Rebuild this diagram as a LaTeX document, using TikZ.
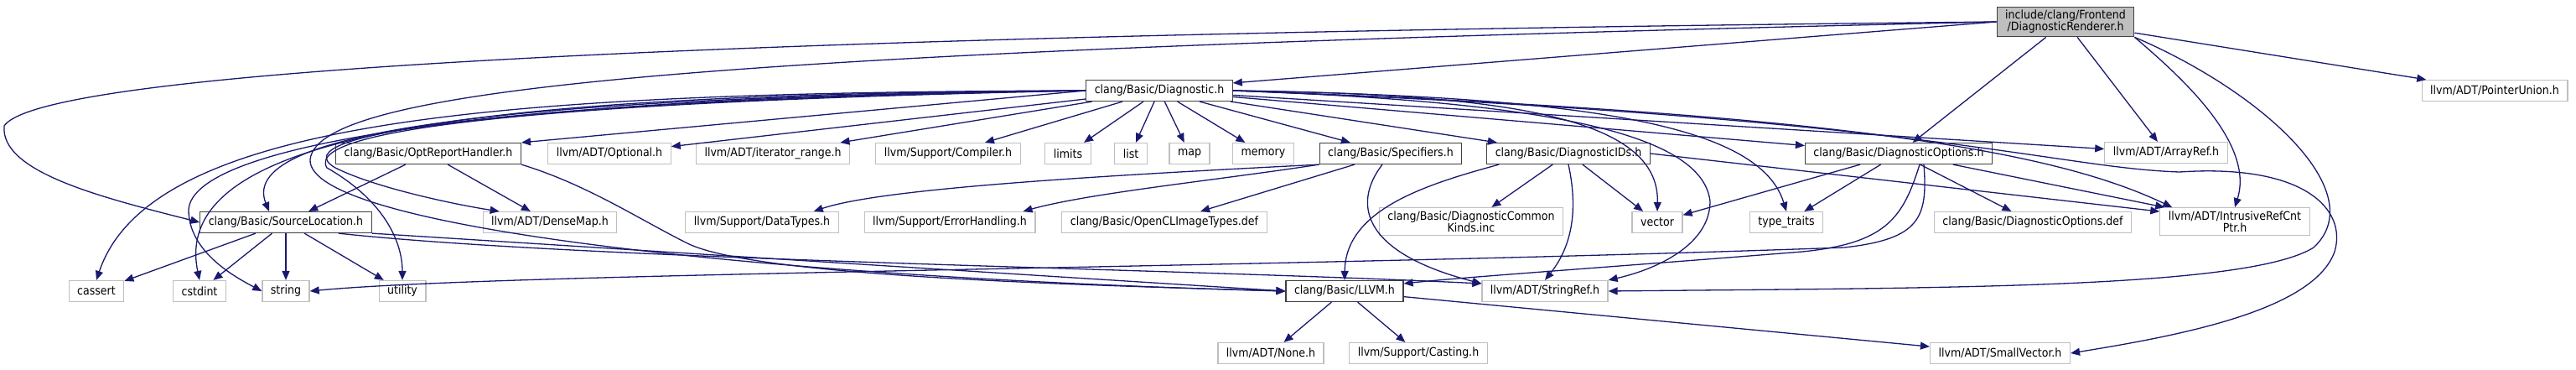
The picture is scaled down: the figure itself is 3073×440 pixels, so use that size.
\documentclass[tikz,border=0pt]{standalone}
\usepackage{fontspec}
\setmainfont{DejaVu Sans Condensed}
\usetikzlibrary{arrows.meta}
\definecolor{edgeblue}{RGB}{25,25,112}
\definecolor{boxgrey}{RGB}{191,191,191}

\begin{document}
\begin{tikzpicture}
\tikzstyle{file} = [draw=boxgrey, fill=white, line width=1.2pt, rectangle, minimum height=25pt, inner xsep=10pt, inner ysep=4pt, align=center, font=\fontsize{14}{14}\selectfont]
\tikzstyle{doc}  = [file, draw=black!75]
\tikzstyle{root} = [file, draw=black!75, fill=boxgrey]
\tikzstyle{dep}  = [draw=edgeblue, line width=1.3pt, -{Triangle[length=11pt,width=9pt]}]

\begin{scope}[x=1pt,y=-1pt]
\useasboundingbox (0,0) rectangle (3073,440);

\draw(2464,26)  node[root] (renderer)   {include/clang/Frontend\\/DiagnosticRenderer.h};
\draw(1383,108) node[doc]  (diag)       {clang/Basic/Diagnostic.h};
\draw(2976,108) node[file] (ptrunion)   {llvm/ADT/PointerUnion.h};

\draw(511,183)  node[doc]  (optrep)     {clang/Basic/OptReportHandler.h};
\draw(727,183)  node[file] (optional)   {llvm/ADT/Optional.h};
\draw(922,183)  node[file] (iterrange)  {llvm/ADT/iterator\_range.h};
\draw(1131,183) node[file] (compiler)   {llvm/Support/Compiler.h};
\draw(1274,183) node[file] (limits)     {limits};
\draw(1349,183) node[file] (list)       {list};
\draw(1419,183) node[file] (map)        {map};
\draw(1507,183) node[file] (memory)     {memory};
\draw(1659,183) node[doc]  (specifiers) {clang/Basic/Specifiers.h};
\draw(1871,183) node[doc]  (diagids)    {clang/Basic/DiagnosticIDs.h};
\draw(2265,183) node[doc]  (diagopts)   {clang/Basic/DiagnosticOptions.h};
\draw(2584,182) node[file] (arrayref)   {llvm/ADT/ArrayRef.h};

\draw(341,265)  node[doc]  (srcloc)     {clang/Basic/SourceLocation.h};
\draw(656,265)  node[file] (densemap)   {llvm/ADT/DenseMap.h};
\draw(909,265)  node[file] (datatypes)  {llvm/Support/DataTypes.h};
\draw(1133,265) node[file] (errhandle)  {llvm/Support/ErrorHandling.h};
\draw(1389,265) node[file] (opencl)     {clang/Basic/OpenCLImageTypes.def};
\draw(1755,264) node[file] (commonkind) {clang/Basic/DiagnosticCommon\\Kinds.inc};
\draw(1977,265) node[file] (vector)     {vector};
\draw(2131,265) node[file] (typetraits) {type\_traits};
\draw(2425,265) node[file] (optsdef)    {clang/Basic/DiagnosticOptions.def};
\draw(2666,264) node[file] (refcnt)     {llvm/ADT/IntrusiveRefCnt\\Ptr.h};

\draw(115,347)  node[file] (cassert)    {cassert};
\draw(238,347)  node[file] (cstdint)    {cstdint};
\draw(341,347)  node[file] (string)     {string};
\draw(480,347)  node[file] (utility)    {utility};
\draw(1604,347) node[doc]  (llvmh)      {clang/Basic/LLVM.h};
\draw(1843,347) node[file] (stringref)  {llvm/ADT/StringRef.h};

\draw(1516,421) node[file] (none)       {llvm/ADT/None.h};
\draw(1692,421) node[file] (casting)    {llvm/Support/Casting.h};
\draw(2386,421) node[file] (smallvec)   {llvm/ADT/SmallVector.h};

% renderer
\draw[dep] (renderer.west) -- ([yshift=-4pt]diag.north east);
\draw[dep] (renderer.west) .. controls (1200,38) and (60,70) .. (5,150) .. controls (0,205) and (120,235) .. (srcloc.west);
\draw[dep] (renderer.west) .. controls (900,60) and (380,100) .. (370,190) .. controls (365,270) and (900,330) .. (llvmh.west);
\draw[dep] (renderer) -- (diagopts);
\draw[dep] (renderer) -- (arrayref);
\draw[dep] (renderer.south east) .. controls (2600,90) and (2690,170) .. (refcnt.north);
\draw[dep] (renderer.south east) .. controls (2700,110) and (2830,230) .. (2760,295) .. controls (2680,345) and (2300,343) .. (stringref.east);
\draw[dep] (renderer) -- (ptrunion);

% diagnostic
\draw[dep] (diag.west) -- (optrep.north east);
\draw[dep] (diag) -- (optional);
\draw[dep] (diag) -- (iterrange);
\draw[dep] (diag) -- (compiler);
\draw[dep] (diag) -- (limits);
\draw[dep] (diag) -- (list);
\draw[dep] (diag) -- (map);
\draw[dep] (diag) -- (memory);
\draw[dep] (diag) -- (specifiers);
\draw[dep] (diag) -- (diagids);
\draw[dep] (diag) -- (diagopts);
\draw[dep] (diag) -- (arrayref);
\draw[dep] (diag.east) .. controls (2200,135) and (2450,180) .. ([xshift=15pt]refcnt.north west);
\draw[dep] (diag.east) .. controls (2300,140) and (2450,200) .. (2600,205) .. controls (2750,195) and (2800,250) .. (2785,300) .. controls (2760,370) and (2600,400) .. (smallvec.east);
\draw[dep] (diag.east) .. controls (1800,120) and (2030,150) .. (2040,240) .. controls (2040,290) and (1980,320) .. (stringref.north east);
\draw[dep] (diag.east) .. controls (1800,112) and (1980,140) .. (vector.north);
\draw[dep] (diag.east) .. controls (1900,115) and (2100,150) .. (typetraits.north);
\draw[dep] (diag.west) .. controls (600,110) and (180,140) .. (cassert.north);
\draw[dep] (diag.west) .. controls (600,112) and (200,150) .. (cstdint.north);
\draw[dep] (diag.west) .. controls (600,115) and (230,170) .. (225,250) .. controls (225,300) and (280,330) .. (string.west);
\draw[dep] (diag.west) .. controls (700,120) and (360,150) .. (390,200) .. controls (460,240) and (480,290) .. (utility.north);
\draw[dep] (diag.west) .. controls (650,115) and (280,150) .. ([xshift=-20pt]srcloc.north);
\draw[dep] (diag.west) .. controls (600,120) and (330,160) .. (400,200) .. controls (450,225) and (550,245) .. ([xshift=20pt]densemap.north west);

% opt report handler
\draw[dep] (optrep) -- (srcloc);
\draw[dep] (optrep) -- (densemap);
\draw[dep] (optrep.south east) .. controls (700,220) and (760,260) .. (820,290) .. controls (900,330) and (1300,340) .. (llvmh.west);

% specifiers
\draw[dep] (specifiers.south west) .. controls (1300,210) and (1050,225) .. ([xshift=-30pt]datatypes.north east);
\draw[dep] (specifiers.south west) .. controls (1450,215) and (1300,230) .. ([xshift=-15pt]errhandle.north east);
\draw[dep] (specifiers) -- (opencl);
\draw[dep] ([xshift=-10pt]specifiers.south) .. controls (1615,240) and (1620,300) .. ([yshift=9pt]stringref.west);

% diagnostic ids
\draw[dep] ([xshift=15pt]diagids.south west) .. controls (1700,220) and (1605,250) .. (llvmh.north);
\draw[dep] (diagids) -- (commonkind);
\draw[dep] (diagids.south) .. controls (1885,260) and (1870,300) .. (stringref.north);
\draw[dep] (diagids) -- (vector);
\draw[dep] (diagids.east) -- ([yshift=-5pt]refcnt.north west);

% diagnostic options
\draw[dep] (diagopts) -- (vector);
\draw[dep] (diagopts) -- (typetraits);
\draw[dep] (diagopts) -- (optsdef);
\draw[dep] (diagopts) -- (refcnt);
\draw[dep] ([xshift=25pt]diagopts.south) .. controls (2270,260) and (2250,290) .. (2150,300) .. controls (1900,320) and (1750,330) .. ([yshift=9pt]llvmh.east);
\draw[dep] ([xshift=30pt]diagopts.south) .. controls (2300,260) and (2290,285) .. (2200,295) .. controls (1500,320) and (600,325) .. (string.east);

% source location
\draw[dep] (srcloc) -- (cassert);
\draw[dep] (srcloc) -- (cstdint);
\draw[dep] (srcloc) -- (string);
\draw[dep] (srcloc) -- (utility);
\draw[dep] (srcloc.south east) -- (llvmh.west);
\draw[dep] ([xshift=-40pt]srcloc.south east) .. controls (700,310) and (1400,320) .. ([yshift=9pt]stringref.west);

% llvm
\draw[dep] (llvmh) -- (none);
\draw[dep] (llvmh) -- (casting);
\draw[dep] (llvmh) -- (smallvec);

\end{scope}
\end{tikzpicture}
\end{document}
